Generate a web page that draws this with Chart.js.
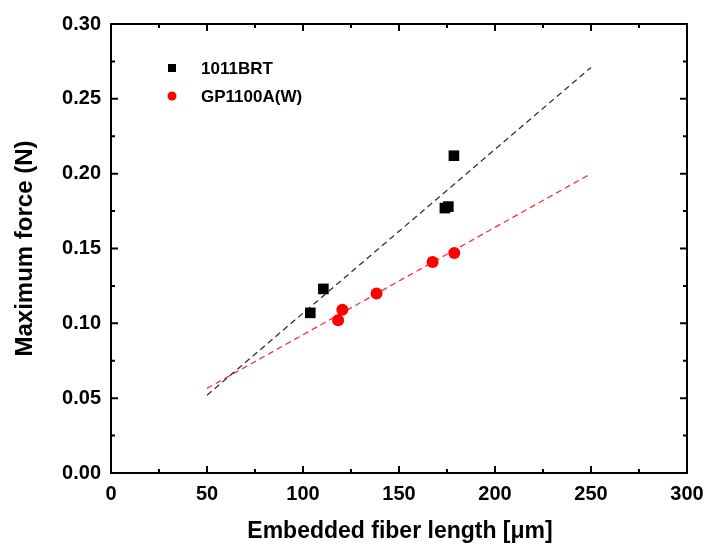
<!DOCTYPE html>
<html>
<head>
<meta charset="utf-8">
<script src="https://cdn.jsdelivr.net/npm/chart.js@4.4.1/dist/chart.umd.min.js"></script>
<style>
    html, body { margin: 0; padding: 0; background: #fff; }
    #wrap { width: 707px; height: 547px; }
</style>
</head>
<body>
<div id="wrap"><canvas id="chart"></canvas></div>
<script>
// measured points
const brtLength = [103.8, 110.6, 173.9, 175.7, 178.6];
const brtForce = [0.107, 0.123, 0.177, 0.178, 0.212];
const gpLength = [118.3, 120.5, 138.3, 167.5, 178.8];
const gpForce = [0.102, 0.109, 0.120, 0.141, 0.147];

// linear fits (drawn from 50 to 250)
const fitLength = [50, 250];
const brtFit = [0.052, 0.271];
const gpFit = [0.0565, 0.200];

const seriesNames = ['1011BRT', 'GP1100A(W)'];
const xTitle = 'Embedded fiber length [\u03bcm]';
const yTitle = 'Maximum force (N)';

const FONT = "'Liberation Sans', Arial, sans-serif";

function pairs(xs, ys) {
    return xs.map((x, i) => ({ x: x, y: ys[i] }));
}

// frame with inward major/minor ticks, legend, x title
const framePlugin = {
    id: 'frame',
    afterDraw(chart) {
        const ctx = chart.ctx;
        const area = chart.chartArea;
        const xs = chart.scales.x;
        const ys = chart.scales.y;
        ctx.save();
        ctx.strokeStyle = '#000';
        ctx.lineWidth = 2;
        ctx.strokeRect(area.left, area.top, area.right - area.left, area.bottom - area.top);

        ctx.beginPath();
        for (let v = 0; v <= 300; v += 25) {
            const px = xs.getPixelForValue(v);
            const len = v % 50 === 0 ? 7 : 4;
            ctx.moveTo(px, area.bottom);
            ctx.lineTo(px, area.bottom - len);
            ctx.moveTo(px, area.top);
            ctx.lineTo(px, area.top + len);
        }
        for (let i = 0; i <= 12; i++) {
            const py = ys.getPixelForValue(i * 0.025);
            const len = i % 2 === 0 ? 7 : 4;
            ctx.moveTo(area.left, py);
            ctx.lineTo(area.left + len, py);
            ctx.moveTo(area.right, py);
            ctx.lineTo(area.right - len, py);
        }
        ctx.stroke();

        // legend
        const ds = chart.data.datasets;
        ctx.font = 'bold 17px ' + FONT;
        ctx.textBaseline = 'middle';
        ctx.textAlign = 'left';
        const rows = [68, 96];
        for (let i = 0; i < 2; i++) {
            ctx.fillStyle = ds[i].backgroundColor;
            if (ds[i].pointStyle === 'rect') {
                ctx.fillRect(168, rows[i] - 4, 8, 8);
            } else {
                ctx.beginPath();
                ctx.arc(172, rows[i], 4.5, 0, Math.PI * 2);
                ctx.fill();
            }
            ctx.fillStyle = '#000';
            ctx.fillText(seriesNames[i], 201, rows[i] + 1);
        }

        // x axis title
        ctx.font = 'bold 23px ' + FONT;
        ctx.textAlign = 'center';
        ctx.fillText(xTitle, 400, 532);
        ctx.restore();
    }
};

new Chart(document.getElementById('chart'), {
    type: 'scatter',
    data: {
        datasets: [{
            label: seriesNames[0],
            data: pairs(brtLength, brtForce),
            pointStyle: 'rect',
            pointRadius: 7.5,
            backgroundColor: '#000000',
            borderColor: '#000000',
            borderWidth: 0
        }, {
            label: seriesNames[1],
            data: pairs(gpLength, gpForce),
            pointStyle: 'circle',
            pointRadius: 6,
            backgroundColor: '#ff0000',
            borderColor: '#ff0000',
            borderWidth: 0
        }, {
            label: 'fit 1',
            data: pairs(fitLength, brtFit),
            showLine: true,
            pointRadius: 0,
            borderColor: '#333333',
            borderWidth: 1.3,
            borderDash: [6, 4]
        }, {
            label: 'fit 2',
            data: pairs(fitLength, gpFit),
            showLine: true,
            pointRadius: 0,
            borderColor: '#ff3030',
            borderWidth: 1.3,
            borderDash: [6, 4]
        }]
    },
    options: {
        responsive: true,
        maintainAspectRatio: false,
        animation: false,
        layout: { padding: { top: 24, right: 20, bottom: 0, left: 0 } },
        plugins: {
            legend: { display: false },
            tooltip: { enabled: false }
        },
        scales: {
            x: {
                type: 'linear',
                min: 0,
                max: 300,
                grid: { display: false, drawTicks: false },
                border: { display: false },
                afterFit: scale => {
                    scale.height = 74;
                    scale.paddingLeft = 0;
                    scale.paddingRight = 0;
                },
                ticks: {
                    stepSize: 50,
                    padding: 9,
                    color: '#000',
                    font: { family: FONT, size: 20, weight: 'bold' }
                },
                title: { display: false }
            },
            y: {
                type: 'linear',
                min: 0,
                max: 0.30,
                grid: { display: false, drawTicks: false },
                border: { display: false },
                afterFit: scale => { scale.width = 111; },
                ticks: {
                    stepSize: 0.05,
                    padding: 10,
                    color: '#000',
                    font: { family: FONT, size: 20, weight: 'bold' },
                    callback: v => v.toFixed(2)
                },
                title: {
                    display: true,
                    text: yTitle,
                    color: '#000',
                    padding: { top: 11, bottom: 0 },
                    font: { family: FONT, size: 24, weight: 'bold' }
                }
            }
        }
    },
    plugins: [framePlugin]
});
</script>
</body>
</html>
